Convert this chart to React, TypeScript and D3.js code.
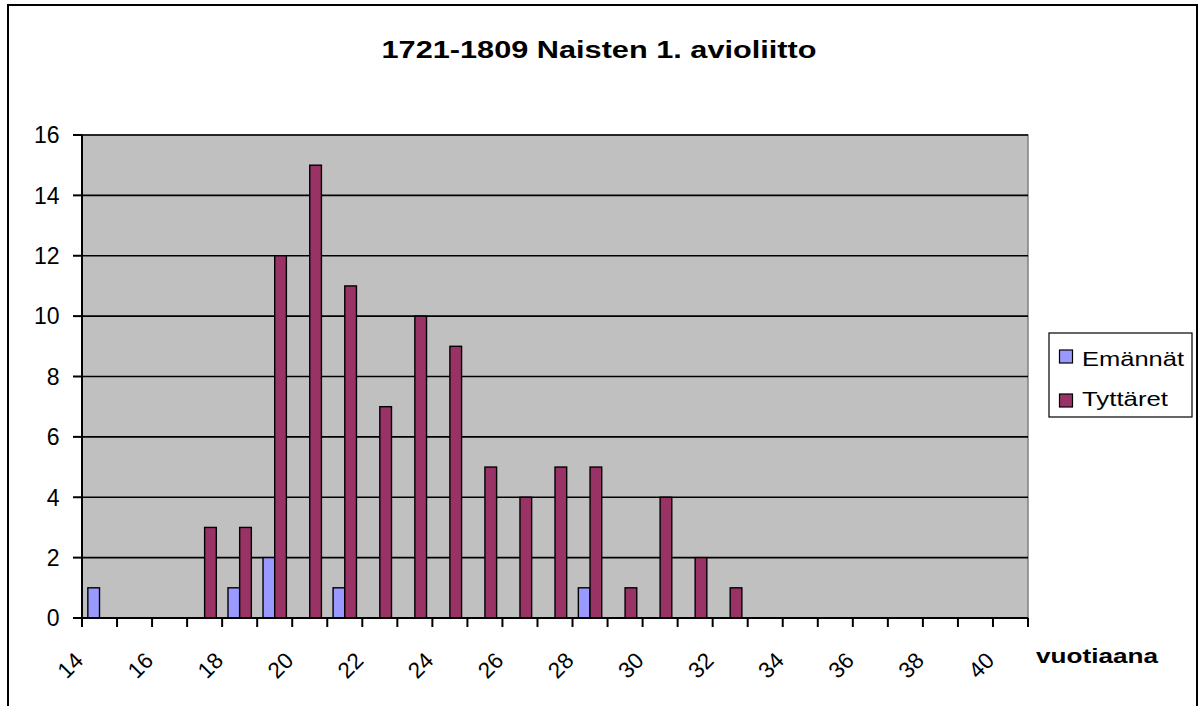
import React from "react";
import * as d3 from "d3";

const categories = [14,15,16,17,18,19,20,21,22,23,24,25,26,27,28,29,30,31,32,33,34,35,36,37,38,39,40];
const emannat =   [1,0,0,0,1,2,0,1,0,0,0,0,0,0,1,0,0,0,0,0,0,0,0,0,0,0,0];
const tyttaret =  [0,0,0,3,3,12,15,11,7,10,9,5,4,5,5,1,4,2,1,0,0,0,0,0,0,0,0];
const seriesNames = ["Emännät", "Tyttäret"];
const seriesColors = ["#9999FF", "#993366"];
const yTicks = [0,2,4,6,8,10,12,14,16];
const xTickLabels = categories.filter((c) => c % 2 === 0);
const title = "1721-1809 Naisten 1. avioliitto";
const xTitle = "vuotiaana";

export default function App() {
  const W = 1199, H = 706;
  const left = 82, right = 1028, top = 135, bottom = 618;
  const x = d3.scaleBand<number>().domain(categories).range([left, right]).padding(0);
  const bw = x.bandwidth();
  const xs = d3.scaleBand<string>().domain(seriesNames).range([0, bw]).paddingInner(0).paddingOuter(0.5);
  const y = d3.scaleLinear().domain([0, 16]).range([bottom, top]);
  const data = [emannat, tyttaret];
  const font = "Arial, 'Liberation Sans', sans-serif";

  return (
    <svg width={W} height={H} style={{ position: "absolute", left: 0, top: 0, background: "#fff" }} fontFamily={font}>
      <rect x={8} y={5} width={1189} height={730} fill="#fff" stroke="#000" strokeWidth={2} />
      <text x={599} y={58} textAnchor="middle" fontSize={23.5} fontWeight="bold" textLength={435} lengthAdjust="spacingAndGlyphs">{title}</text>
      {/* plot area */}
      <rect x={left} y={top} width={right - left} height={bottom - top} fill="#C0C0C0" stroke="#808080" strokeWidth={1.5} />
      {yTicks.filter((t) => t > 0).map((t) => (
        <line key={"g" + t} x1={left} x2={right} y1={y(t)} y2={y(t)} stroke="#000" strokeWidth={1.6} />
      ))}
      {/* bars */}
      {data.map((vals, si) =>
        vals.map((v, i) =>
          v > 0 ? (
            <rect key={si + "-" + i} x={(x(categories[i]) as number) + (xs(seriesNames[si]) as number)} y={y(v)}
              width={xs.bandwidth()} height={y(0) - y(v)} fill={seriesColors[si]} stroke="#000" strokeWidth={1.4} />
          ) : null
        )
      )}
      {/* axes */}
      <line x1={left} x2={left} y1={top} y2={bottom} stroke="#000" strokeWidth={2} />
      <line x1={left} x2={right} y1={bottom} y2={bottom} stroke="#000" strokeWidth={2} />
      {yTicks.map((t) => (
        <g key={"y" + t}>
          <line x1={left - 9} x2={left} y1={y(t)} y2={y(t)} stroke="#000" strokeWidth={2} />
          <text x={59.5} y={y(t)} dy="0.36em" textAnchor="end" fontSize={23}>{t}</text>
        </g>
      ))}
      {categories.map((c) => (
        <line key={"xt" + c} x1={x(c) as number} x2={x(c) as number} y1={bottom} y2={bottom + 9} stroke="#000" strokeWidth={2} />
      ))}
      <line x1={right} x2={right} y1={bottom} y2={bottom + 9} stroke="#000" strokeWidth={2} />
      {xTickLabels.map((c) => {
        const cx = (x(c) as number) + bw / 2;
        return (
          <text key={"xl" + c} transform={`translate(${cx - 15},${662}) rotate(-45)`} textAnchor="end" fontSize={22.5}>{c}</text>
        );
      })}
      <text x={1036} y={663} fontSize={21} fontWeight="bold" textLength={122} lengthAdjust="spacingAndGlyphs">{xTitle}</text>
      {/* legend */}
      <rect x={1049} y={333} width={143} height={84} fill="#fff" stroke="#000" strokeWidth={1.2} />
      {seriesNames.map((s, i) => (
        <g key={"lg" + s}>
          <rect x={1059.5} y={350 + i * 44} width={13} height={13} fill={seriesColors[i]} stroke="#000" strokeWidth={1.2} />
          <text x={1082} y={366 + i * 40} fontSize={21} textLength={i === 0 ? 102 : 86} lengthAdjust="spacingAndGlyphs">{s}</text>
        </g>
      ))}
    </svg>
  );
}
